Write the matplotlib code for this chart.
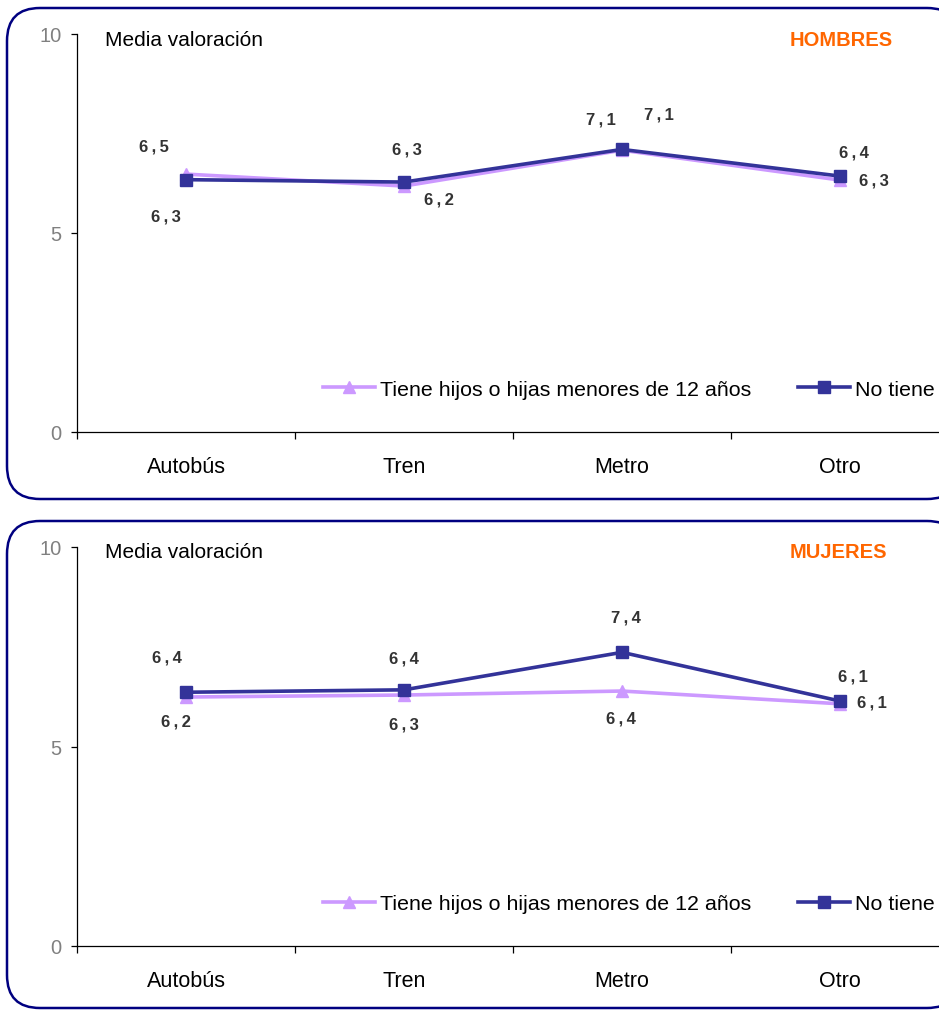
import matplotlib
matplotlib.use("Agg")
import matplotlib.pyplot as plt
from matplotlib.patches import FancyBboxPatch

plt.rcParams['font.family'] = ['Liberation Sans', 'DejaVu Sans']

categories = ['Autobús', 'Tren', 'Metro', 'Otro']
series_names = ['Tiene hijos o hijas menores de 12 años', 'No tiene']
hombres_hijos = [6.48, 6.18, 7.08, 6.33]
hombres_no = [6.34, 6.28, 7.10, 6.43]
mujeres_hijos = [6.24, 6.29, 6.39, 6.07]
mujeres_no = [6.36, 6.42, 7.36, 6.14]
panel_titles = ['HOMBRES', 'MUJERES']
y_ticks = [0, 5, 10]

C_HIJOS = '#CC99FF'
C_NO = '#333399'
C_BORDER = '#000080'
C_TITLE = '#FF6600'

W, H = 939, 1012
fig = plt.figure(figsize=(W / 100, H / 100), dpi=100)

# background overlay in pixel coordinates for rounded frames
bg = fig.add_axes([0, 0, 1, 1])
bg.set_xlim(0, W)
bg.set_ylim(H, 0)
bg.axis('off')
for (y0, y1) in [(9, 500), (522, 1009)]:
    bg.add_patch(FancyBboxPatch((7, y0), 960 - 7, y1 - y0,
                                boxstyle="round,pad=0,rounding_size=33",
                                fc='white', ec=C_BORDER, lw=1.8))

# label offsets in pixels (dx, dy up)
off_top_hijos = [(-32, 28), (35, -13), (-21, 31), (34, 0)]
off_top_no = [(-20, -36), (3, 33), (37, 35), (14, 24)]
off_bot_hijos = [(-10, -24), (0, -29), (-1, -27), (32, 2)]
off_bot_no = [(-19, 35), (0, 32), (4, 35), (13, 25)]

panels = [
    (hombres_hijos, hombres_no, off_top_hijos, off_top_no, 433, 35, panel_titles[0], 893, 41, 390),
    (mujeres_hijos, mujeres_no, off_bot_hijos, off_bot_no, 947, 548, panel_titles[1], 887, 553, 905),
]


def fmt(v):
    s = f"{v:.1f}".replace('.', ',')
    return s.replace(',', '\u2009,\u2009')


x = list(range(len(categories)))
for (hijos, no, oh, on, ypix0, ypix10, title, tx, ty, legy) in panels:
    left = 77 / W
    right = 949 / W
    bottom = (H - ypix0) / H
    height = (ypix0 - ypix10) / H
    ax = fig.add_axes([left, bottom, right - left, height])
    ax.patch.set_alpha(0)
    ax.set_xlim(-0.5, 3.5)
    ax.set_ylim(0, 10)
    for s in ['top', 'right']:
        ax.spines[s].set_visible(False)
    ax.spines['left'].set_linewidth(0.9)
    ax.spines['bottom'].set_linewidth(0.9)

    l1, = ax.plot(x, hijos, color=C_HIJOS, lw=2.6, marker='^', ms=8.5,
                  label=series_names[0], zorder=3)
    l2, = ax.plot(x, no, color=C_NO, lw=2.6, marker='s', ms=8,
                  label=series_names[1], zorder=4)

    for vals, offs in [(hijos, oh), (no, on)]:
        for xi, v, (dx, dy) in zip(x, vals, offs):
            ax.annotate(fmt(v), (xi, v),
                        xytext=(dx, dy), textcoords='offset pixels',
                        ha='center', va='center', fontsize=12,
                        fontweight='bold', color='#333333')

    ax.set_yticks(y_ticks)
    ax.set_yticklabels([str(t) for t in y_ticks])
    ax.tick_params(axis='y', length=4, width=0.9, pad=7, labelsize=14.5,
                   labelcolor='#808080', color='black')
    ax.set_xticks([-0.5, 0.5, 1.5, 2.5, 3.5])
    ax.set_xticklabels([])
    ax.tick_params(axis='x', which='major', length=5, width=0.9, direction='out')
    ax.set_xticks(x, minor=True)
    ax.set_xticklabels(categories, minor=True)
    ax.tick_params(axis='x', which='minor', length=0, pad=17, labelsize=15.5)

    fig.text(105 / W, (H - (ty - 1)) / H, 'Media valoración', ha='left',
             va='center', fontsize=15)
    fig.text(tx / W, (H - ty) / H, title, ha='right', va='center',
             fontsize=14.5, fontweight='bold', color=C_TITLE)

    fig.legend(handles=[l1, l2], loc='center left',
               bbox_to_anchor=(323 / W, (H - legy) / H), frameon=False,
               ncol=2, fontsize=15.4, handlelength=2.45, handletextpad=0.2,
               columnspacing=2.2, borderaxespad=0, borderpad=0)

fig.savefig('out.png', dpi=100)
